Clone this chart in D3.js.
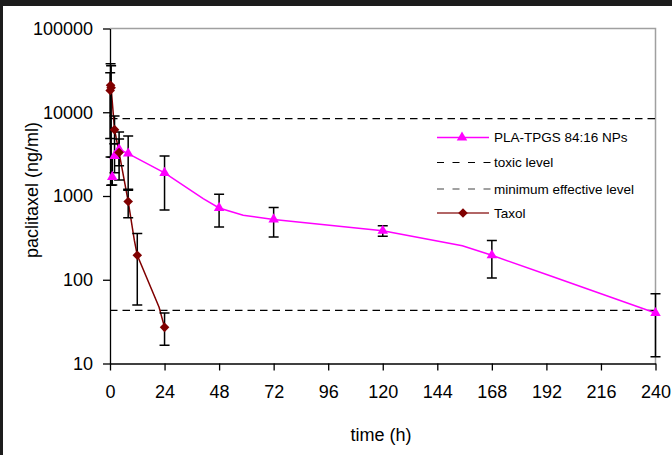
<!DOCTYPE html>
<html>
<head>
<meta charset="utf-8">
<script src="https://cdn.jsdelivr.net/npm/d3@7"></script>
<style>
    html, body { margin: 0; padding: 0; background: #fff; }
    svg { display: block; font-family: "Liberation Sans", Arial, sans-serif; }
</style>
</head>
<body>
<div id="chart"></div>
<script>
// PLA-TPGS 84:16 NPs, measured points with error bars
const plaTime = [1, 2, 4, 8, 24, 48, 72, 120, 168, 240]
const plaConc = [1690, 3010, 3620, 3210, 1890, 720, 525, 385, 196, 40]
const plaHigh = [2900, 4200, 5800, 5200, 3000, 1050, 730, 440, 294, 68]
const plaLow  = [1350, 1900, 1550, 1170, 680, 425, 325, 331, 105, 12]

// the pink curve runs through a few extra unmarked points
const plaLineTime = [2, 4, 8, 24, 41, 48, 58.6, 72, 120, 155, 168, 193, 240]
const plaLineConc = [3010, 3620, 3210, 1890, 930, 720, 590, 525, 385, 254, 196, 113, 40]

// Taxol
const taxolTime = [0.083, 0.25, 0.5, 2, 4, 8, 12, 24]
const taxolConc = [18200, 21000, 19600, 6200, 3300, 860, 196, 27]
const taxolHigh = [29600, 38000, 35800, 9000, 4800, 1200, 356, 40]
const taxolLow  = [4870, 2930, 1345, 4200, 2300, 550, 50, 16.5]

const taxolLineTime = [0.083, 0.25, 0.5, 2, 4, 8, 10.7, 12, 21.6, 24]
const taxolLineConc = [18200, 21000, 19600, 6200, 3300, 860, 297, 196, 47, 27]

const toxicLevel = 8400
const minEffectiveLevel = 43

const xTicks = [0, 24, 48, 72, 96, 120, 144, 168, 192, 216, 240]
const yTicks = [10, 100, 1000, 10000, 100000]

const legendLabels = ['PLA-TPGS 84:16 NPs', 'toxic level', 'minimum effective level', 'Taxol']

const width = 672
const height = 455

const svg = d3.select('#chart')
    .append('svg')
    .attr('width', width)
    .attr('height', height)

// dark frame edges from the original screenshot
svg.append('rect').attr('x', 0).attr('y', 0).attr('width', width).attr('height', 6).attr('fill', '#1c1c1c')
svg.append('rect').attr('x', 0).attr('y', 0).attr('width', 3).attr('height', height).attr('fill', '#1c1c1c')

const x = d3.scaleLinear().domain([0, 240]).range([110, 655.5])
const y = d3.scaleLog().domain([10, 100000]).range([363.5, 28.5])

// plot border (top and right)
svg.append('path')
    .attr('d', `M${x(0)},${y(100000)}H${x(240)}V${y(10)}`)
    .attr('fill', 'none')
    .attr('stroke', '#a0a0a0')
    .attr('stroke-width', 1.5)

// reference levels
const levels = [toxicLevel, minEffectiveLevel]
svg.selectAll('line.level')
    .data(levels)
    .enter()
    .append('line')
    .classed('level', true)
    .attr('x1', x(0))
    .attr('x2', x(240))
    .attr('y1', d => y(d))
    .attr('y2', d => y(d))
    .attr('stroke', '#000')
    .attr('stroke-width', 1.2)
    .attr('stroke-dasharray', '7.5,5')

// axes
const xAxis = svg.append('g')
    .attr('transform', `translate(0,${y(10)})`)
    .call(d3.axisBottom(x).tickValues(xTicks).tickSize(7).tickSizeOuter(0).tickPadding(15))
const yAxis = svg.append('g')
    .attr('transform', `translate(${x(0)},0)`)
    .call(d3.axisLeft(y).tickValues(yTicks).tickFormat(d3.format('d')).tickSize(7).tickSizeOuter(0).tickPadding(10))

;[xAxis, yAxis].forEach(axis => {
    axis.selectAll('text')
        .attr('fill', '#000')
        .style('font-family', '"Liberation Sans", Arial, sans-serif')
        .style('font-size', '18px')
    axis.selectAll('line, path').attr('stroke', '#000').attr('stroke-width', 1.3)
})

svg.append('text')
    .attr('x', 381)
    .attr('y', 441)
    .attr('text-anchor', 'middle')
    .style('font-size', '18px')
    .text('time (h)')

svg.append('text')
    .attr('transform', 'translate(38,190) rotate(-90)')
    .attr('text-anchor', 'middle')
    .style('font-size', '18px')
    .text('paclitaxel (ng/ml)')

// lines
const line = d3.line().x(d => x(d[0])).y(d => y(d[1]))

svg.append('path')
    .datum(d3.zip(taxolLineTime, taxolLineConc))
    .attr('d', line)
    .attr('fill', 'none')
    .attr('stroke', '#800000')
    .attr('stroke-width', 1.5)

svg.append('path')
    .datum(d3.zip(plaLineTime, plaLineConc))
    .attr('d', line)
    .attr('fill', 'none')
    .attr('stroke', '#ff00ff')
    .attr('stroke-width', 1.5)

// error bars
const drawErrors = (times, high, low) => {
    const g = svg.append('g')
        .attr('stroke', '#000')
        .attr('stroke-width', 1.5)
        .attr('fill', 'none')
    times.forEach((t, i) => {
        const cx = x(t)
        g.append('path')
            .attr('d', `M${cx},${y(high[i])}V${y(low[i])}M${cx - 5},${y(high[i])}H${cx + 5}M${cx - 5},${y(low[i])}H${cx + 5}`)
    })
}
drawErrors(taxolTime, taxolHigh, taxolLow)
drawErrors(plaTime, plaHigh, plaLow)

// markers
const triangle = d3.symbol().type(d3.symbolTriangle).size(48)
const diamond = d3.symbol().type(d3.symbolSquare).size(46)

svg.selectAll('path.tri')
    .data(d3.zip(plaTime, plaConc))
    .enter()
    .append('path')
    .classed('tri', true)
    .attr('d', triangle)
    .attr('transform', d => `translate(${x(d[0])},${y(d[1])})`)
    .attr('fill', '#ff00ff')

svg.selectAll('path.dia')
    .data(d3.zip(taxolTime, taxolConc))
    .enter()
    .append('path')
    .classed('dia', true)
    .attr('d', diamond)
    .attr('transform', d => `translate(${x(d[0])},${y(d[1])}) rotate(45)`)
    .attr('fill', '#800000')

// legend
const legend = svg.append('g').attr('transform', 'translate(437,0)')
const rowY = [137.5, 162.5, 189, 213]

legend.append('line').attr('x1', 0).attr('x2', 52).attr('y1', rowY[0]).attr('y2', rowY[0])
    .attr('stroke', '#ff00ff').attr('stroke-width', 1.5)
legend.append('path').attr('d', triangle).attr('transform', `translate(25,${rowY[0]})`).attr('fill', '#ff00ff')

legend.append('line').attr('x1', 0).attr('x2', 54).attr('y1', rowY[1]).attr('y2', rowY[1])
    .attr('stroke', '#000').attr('stroke-width', 1.2).attr('stroke-dasharray', '7,8.5')
legend.append('line').attr('x1', 0).attr('x2', 54).attr('y1', rowY[2]).attr('y2', rowY[2])
    .attr('stroke', '#444').attr('stroke-width', 1.2).attr('stroke-dasharray', '7,8.5')

legend.append('line').attr('x1', 0).attr('x2', 52).attr('y1', rowY[3]).attr('y2', rowY[3])
    .attr('stroke', '#993333').attr('stroke-width', 1.5)
legend.append('path').attr('d', diamond).attr('transform', `translate(26,${rowY[3]}) rotate(45)`).attr('fill', '#800000')

legend.selectAll('text')
    .data(legendLabels)
    .enter()
    .append('text')
    .attr('x', 57)
    .attr('y', (d, i) => rowY[i])
    .attr('dy', '0.35em')
    .style('font-size', '13.5px')
    .text(d => d)
</script>
</body>
</html>
